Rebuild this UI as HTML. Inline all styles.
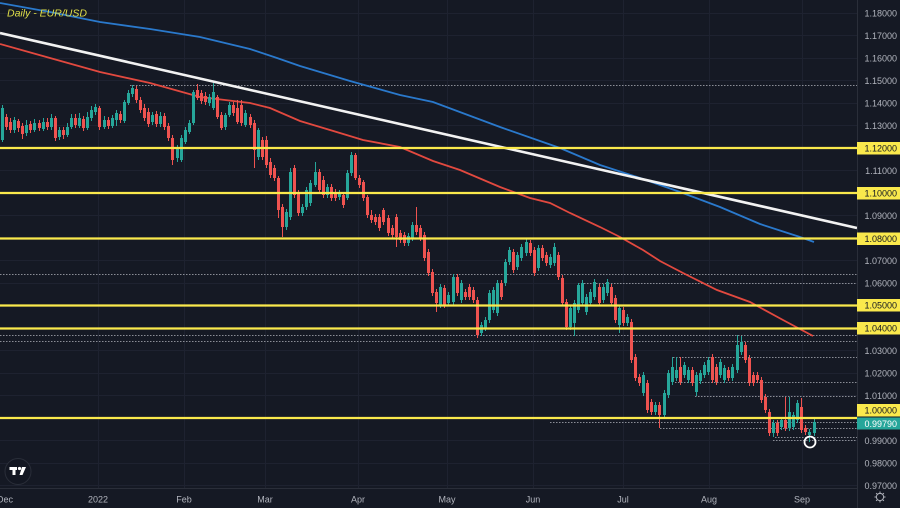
<!DOCTYPE html>
<html><head><meta charset="utf-8"><style>
html,body{margin:0;padding:0;background:#151924;}
svg{display:block;}
text{font-family:"Liberation Sans",sans-serif;}
</style></head><body>
<svg width="900" height="508" viewBox="0 0 900 508" xmlns="http://www.w3.org/2000/svg">
<rect width="900" height="508" fill="#151924"/>
<!-- grid -->
<g stroke="#1e2230" stroke-width="1">
<path d="M0 13.5H857M0 35.5H857M0 58.5H857M0 80.5H857M0 103.5H857M0 125.5H857M0 148.5H857M0 170.5H857M0 193.5H857M0 215.5H857M0 238.5H857M0 260.5H857M0 283.5H857M0 305.5H857M0 328.5H857M0 350.5H857M0 373.5H857M0 395.5H857M0 418.5H857M0 440.5H857M0 463.5H857M0 485.5H857"/>
<path d="M98.5 0V488M184.5 0V488M265.5 0V488M358.5 0V488M447.5 0V488M533.5 0V488M623.5 0V488M709.5 0V488M802.5 0V488"/>
</g>
<!-- dotted lines -->
<g stroke="#8a8d96" stroke-width="1" stroke-dasharray="1.5 1.5" fill="none">
<path d="M130 85.5H857M0 274.5H857M578 283.5H857M0 335.5H857M0 341.5H857M673 357.5H857M675 382.5H857M695 396.5H857M550 422.5H857M660 428.5H857M775 437.5H857M773 440.5H857"/>
</g>
<!-- moving averages -->
<polyline fill="none" stroke="#2a79cc" stroke-width="1.8" points="0,3 50,12 100,22 150,29 200,37 250,49 277,58 300,66 350,81 400,95 433,102 500,127 560,148 600,165 640,178 680,192 720,207 760,224 800,237 814,242"/>
<polyline fill="none" stroke="#e2493f" stroke-width="1.8" points="0,44 50,58 100,72 150,83 200,97 250,103 270,108 300,121 330,130 363,140 400,147 433,161 460,170 500,187 530,198 550,203 570,213 600,227 620,237 643,250 660,261 683,273 717,290 750,302 783,320 813,336"/>
<line x1="0" y1="33" x2="857" y2="228" stroke="#f2f2f2" stroke-width="2.6"/>
<!-- teal candles -->
<g stroke="#26a69a" fill="none">
<path stroke-width="1" d="M2.5 105V142M14.5 117V133M26.5 120V136M34.5 119V132M43.5 118V131M51.5 114V130M59.5 127V140M67.5 123V137M71.5 114V129M79.5 113V128M87.5 112V130M91.5 106V121M95.5 104V115M104.5 116V129M112.5 115V128M116.5 110V126M124.5 100V123M128.5 90V105M132.5 85V97M152.5 112V125M160.5 112V127M177.5 145V162M181.5 135V162M185.5 127V144M189.5 120V134M193.5 90V125M209.5 94V106M213.5 83V110M225.5 113V130M229.5 102V117M245.5 110V127M258.5 128V160M286.5 209V230M290.5 168V220M302.5 204V216M306.5 187V210M310.5 180V206M315.5 162V187M327.5 184V198M339.5 190V200M347.5 170V200M351.5 152V176M408.5 233V246M412.5 222V241M440.5 284V308M448.5 292V306M453.5 274V305M461.5 280V303M481.5 322V336M485.5 317V331M489.5 290V323M493.5 287V313M497.5 280V316M505.5 259V286M509.5 247V265M517.5 252V270M521.5 244V261M526.5 239V256M538.5 245V271M550.5 254V268M554.5 243V266M570.5 305V330M574.5 300V336M578.5 283V313M582.5 280V306M586.5 294V315M590.5 289V306M594.5 279V300M603.5 284V303M607.5 279V296M619.5 305V333M627.5 314V326M643.5 372V396M655.5 402V415M664.5 390V418M668.5 370V398M672.5 357V385M676.5 357V381M684.5 362V378M688.5 367V383M696.5 372V396M700.5 370V384M704.5 362V378M708.5 357V375M720.5 359V378M724.5 365V383M732.5 364V381M737.5 335V373M741.5 336V355M773.5 420V437M781.5 417V430M789.5 397V431M793.5 412V430M797.5 400V423M809.5 429V442M814.5 419V436"/>
<path stroke-width="3" d="M2.5 140V108M14.5 130V120M26.5 133V125M34.5 130V123M43.5 129V122M51.5 127V118M59.5 137V130M67.5 135V127M71.5 127V118M79.5 126V118M87.5 128V117M91.5 118V110M95.5 112V107M104.5 127V120M112.5 126V118M116.5 120V113M124.5 121V102M128.5 103V93M132.5 94V88M152.5 122V115M160.5 124V116M177.5 158V148M181.5 160V138M185.5 142V130M189.5 132V123M193.5 123V92M209.5 103V97M213.5 108V92M225.5 127V115M229.5 115V105M245.5 125V113M258.5 157V130M286.5 227V212M290.5 217V172M302.5 213V207M306.5 207V190M310.5 203V183M315.5 185V172M327.5 195V187M339.5 197V193M347.5 198V173M351.5 173V155M408.5 243V236M412.5 238V225M440.5 305V287M448.5 303V295M453.5 302V277M461.5 300V283M481.5 333V325M485.5 328V320M489.5 320V293M493.5 310V290M497.5 313V283M505.5 283V262M509.5 262V250M517.5 267V255M521.5 258V247M526.5 253V242M538.5 268V248M550.5 265V257M554.5 263V247M570.5 327V308M574.5 323V303M578.5 310V285M582.5 303V283M586.5 312V297M590.5 303V292M594.5 297V282M603.5 300V287M607.5 293V282M619.5 325V308M627.5 323V317M643.5 393V375M655.5 412V405M664.5 415V393M668.5 395V373M672.5 382V367M676.5 378V370M684.5 375V365M688.5 380V370M696.5 392V375M700.5 381V373M704.5 375V365M708.5 372V360M720.5 375V362M724.5 380V368M732.5 378V367M737.5 370V345M741.5 352V342M773.5 433V423M781.5 427V420M789.5 428V412M793.5 427V415M797.5 420V403M809.5 435V432M814.5 433V422"/>
</g>
<!-- red candles -->
<g stroke="#ef5350" fill="none">
<path stroke-width="1" d="M6.5 114V130M10.5 118V133M18.5 119V132M22.5 123V139M30.5 121V133M39.5 120V131M47.5 118V130M55.5 116V141M63.5 127V139M75.5 114V128M83.5 116V131M99.5 106V130M108.5 117V129M120.5 111V123M136.5 86V103M140.5 97V113M144.5 104V121M148.5 108V127M156.5 111V127M164.5 113V130M168.5 123V141M172.5 135V165M197.5 84V100M201.5 90V104M205.5 92V105M217.5 95V119M221.5 112V130M233.5 102V116M237.5 100V124M241.5 100V126M250.5 114V128M254.5 120V168M262.5 137V160M266.5 136V168M270.5 158V178M274.5 165V181M278.5 176V218M282.5 204V237M294.5 165V198M298.5 190V216M319.5 169V193M323.5 176V198M331.5 184V201M335.5 189V201M343.5 192V208M355.5 153V180M359.5 175V188M363.5 180V201M367.5 195V218M371.5 210V223M375.5 214V225M379.5 214V231M383.5 208V225M388.5 215V236M392.5 225V238M396.5 214V247M400.5 230V243M404.5 232V246M416.5 207V235M420.5 225V241M424.5 232V261M428.5 249V276M432.5 269V296M436.5 289V312M444.5 285V308M457.5 274V296M465.5 289V300M469.5 284V300M473.5 287V303M477.5 297V338M501.5 280V300M513.5 249V273M530.5 240V256M534.5 247V276M542.5 245V261M546.5 252V266M558.5 252V280M562.5 275V306M566.5 299V330M599.5 284V306M611.5 284V306M615.5 295V323M623.5 307V326M631.5 319V363M635.5 354V381M639.5 374V386M647.5 380V413M651.5 399V415M659.5 402V428M680.5 357V385M692.5 367V386M712.5 354V383M716.5 364V385M728.5 367V381M745.5 342V363M749.5 355V386M753.5 372V386M757.5 372V383M761.5 377V403M765.5 394V413M769.5 409V436M777.5 420V436M785.5 397V431M801.5 398V433M805.5 425V435"/>
<path stroke-width="3" d="M6.5 117V127M10.5 122V130M18.5 121V128M22.5 126V134M30.5 124V130M39.5 123V128M47.5 122V127M55.5 118V138M63.5 130V135M75.5 118V125M83.5 119V128M99.5 108V127M108.5 120V126M120.5 114V120M136.5 89V100M140.5 100V110M144.5 108V118M148.5 112V124M156.5 114V124M164.5 116V127M168.5 126V138M172.5 138V160M197.5 90V98M201.5 93V101M205.5 96V102M217.5 97V117M221.5 115V128M233.5 105V113M237.5 108V122M241.5 105V123M250.5 117V125M254.5 123V150M262.5 140V157M266.5 140V165M270.5 162V175M274.5 168V178M278.5 178V210M282.5 207V227M294.5 168V195M298.5 193V213M319.5 172V190M323.5 180V195M331.5 187V198M335.5 192V198M343.5 195V205M355.5 155V178M359.5 178V185M363.5 182V198M367.5 197V215M371.5 215V220M375.5 217V222M379.5 217V228M383.5 210V222M388.5 218V233M392.5 228V235M396.5 217V237M400.5 233V240M404.5 235V243M416.5 225V232M420.5 228V238M424.5 235V258M428.5 252V273M432.5 272V293M436.5 292V303M444.5 288V305M457.5 277V293M465.5 292V297M469.5 287V297M473.5 290V300M477.5 300V335M501.5 283V297M513.5 252V270M530.5 243V253M534.5 250V273M542.5 248V258M546.5 255V263M558.5 255V277M562.5 278V303M566.5 302V327M599.5 287V303M611.5 287V303M615.5 298V320M623.5 310V323M631.5 322V360M635.5 357V378M639.5 377V383M647.5 383V410M651.5 402V412M659.5 405V415M680.5 367V382M692.5 370V383M712.5 357V380M716.5 367V382M728.5 370V378M745.5 345V360M749.5 358V383M753.5 375V383M757.5 375V380M761.5 380V400M765.5 397V410M769.5 412V433M777.5 423V433M785.5 420V428M801.5 407V430M805.5 428V432"/>
</g>
<!-- yellow horizontal lines -->
<g stroke="#fae94c" stroke-width="2.2">
<path d="M0 148H857M0 193H857M0 238.5H857M0 305.5H857M0 328.5H857M0 418H857"/>
</g>
<!-- marker circle -->
<circle cx="810" cy="442" r="5.5" fill="none" stroke="#ffffff" stroke-width="1.8"/>
<!-- axes separators -->
<path d="M857.5 0V508M0 488.5H857" stroke="#2a2e39" stroke-width="1"/>
<!-- price labels -->
<g font-size="9" fill="#b2b5be" text-anchor="end">
<text x="897" y="16.5">1.18000</text>
<text x="897" y="39">1.17000</text>
<text x="897" y="61.5">1.16000</text>
<text x="897" y="84">1.15000</text>
<text x="897" y="106.5">1.14000</text>
<text x="897" y="129">1.13000</text>
<text x="897" y="174">1.11000</text>
<text x="897" y="219">1.09000</text>
<text x="897" y="264">1.07000</text>
<text x="897" y="286.5">1.06000</text>
<text x="897" y="354">1.03000</text>
<text x="897" y="376.5">1.02000</text>
<text x="897" y="399">1.01000</text>
<text x="897" y="444">0.99000</text>
<text x="897" y="466.5">0.98000</text>
<text x="897" y="489">0.97000</text>
</g>
<!-- yellow price boxes -->
<g fill="#fae94c">
<rect x="857" y="142" width="43" height="12.5"/>
<rect x="857" y="187" width="43" height="12.5"/>
<rect x="857" y="232.5" width="43" height="12.5"/>
<rect x="857" y="299" width="43" height="12.5"/>
<rect x="857" y="322" width="43" height="12.5"/>
<rect x="857" y="404" width="43" height="12.5"/>
</g>
<rect x="857" y="417.5" width="43" height="12" fill="#26a69a"/>
<g font-size="9" fill="#131722" text-anchor="end">
<text x="897" y="151.5">1.12000</text>
<text x="897" y="196.5">1.10000</text>
<text x="897" y="242">1.08000</text>
<text x="897" y="308.5">1.05000</text>
<text x="897" y="331.5">1.04000</text>
<text x="897" y="413.5">1.00000</text>
</g>
<text x="897" y="426.8" font-size="9" fill="#ffffff" text-anchor="end">0.99790</text>
<!-- time labels -->
<g font-size="9" fill="#b2b5be" text-anchor="middle">
<text x="5" y="502.5">Dec</text>
<text x="98" y="502.5">2022</text>
<text x="184" y="502.5">Feb</text>
<text x="265" y="502.5">Mar</text>
<text x="358" y="502.5">Apr</text>
<text x="447" y="502.5">May</text>
<text x="533" y="502.5">Jun</text>
<text x="623" y="502.5">Jul</text>
<text x="709" y="502.5">Aug</text>
<text x="802" y="502.5">Sep</text>
</g>
<!-- title -->
<text x="7" y="16.5" font-size="10.5" font-style="italic" fill="#e0df48">Daily - EUR/USD</text>
<!-- TV logo -->
<circle cx="18" cy="471.5" r="13" fill="#131722" stroke="#2a2e39" stroke-width="1"/>
<g fill="#ffffff">
<rect x="9.5" y="467" width="7.5" height="3"/>
<rect x="12.5" y="467" width="3" height="8"/>
<circle cx="19.5" cy="468.5" r="1.6"/>
<polygon points="22,467 26,467 22.5,475 19.5,475"/>
</g>
<!-- gear icon -->
<g stroke="#b2b5be" stroke-width="1" fill="none">
<circle cx="880" cy="497" r="3.6"/>
<path d="M880 491.5V493M880 501V502.5M874.5 497H876M884 497H885.5M876.1 493.1L877.2 494.2M882.8 499.8L883.9 500.9M876.1 500.9L877.2 499.8M882.8 494.2L883.9 493.1"/>
</g>
</svg>
</body></html>
